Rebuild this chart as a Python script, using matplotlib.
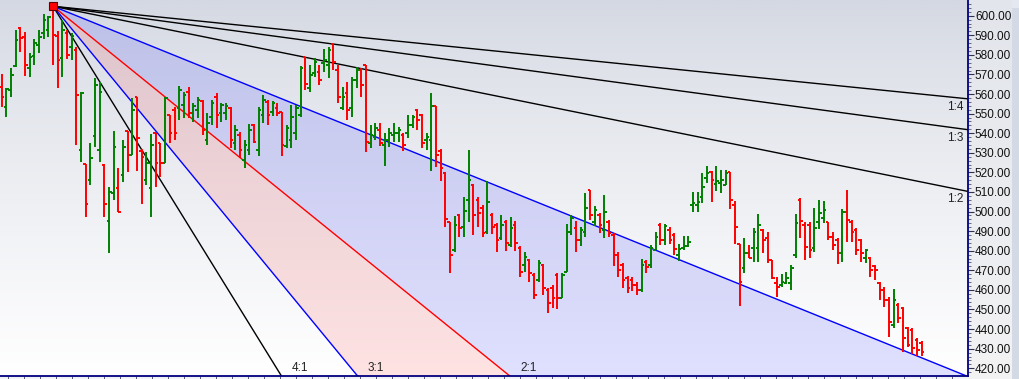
import numpy as np
import matplotlib
matplotlib.use("Agg")
import matplotlib.pyplot as plt
from matplotlib.patches import Rectangle

# ---------------- data ----------------
opens = [563.6, 553.4, 562.1, 574.3, 593.7, 589.1, 573.3, 579.4, 585.1, 591.2,
         592.7, 602.9, 589.6, 578.4, 591.2, 584.0, 582.5, 531.5, 524.4, 516.2,
         538.6, 531.5, 523.9, 495.3, 509.6, 512.1, 518.8, 541.2, 528.9, 558.5,
         531.0, 516.2, 512.1, 540.2, 535.1, 524.9, 549.4, 551.9, 552.9, 554.5,
         561.1, 550.4, 551.9, 556.5, 536.6, 548.3, 558.5, 550.4, 550.4, 552.9,
         535.1, 539.2, 526.4, 531.5, 544.3, 531.5, 549.4, 556.0, 550.9, 552.9,
         550.9, 533.5, 536.6, 540.2, 549.4, 578.9, 563.1, 570.8, 571.3, 575.9,
         574.9, 585.6, 572.3, 552.9, 560.6, 552.9, 567.2, 572.3, 574.9, 535.1,
         538.1, 541.7, 534.0, 536.6, 539.2, 540.2, 539.2, 540.2, 544.3, 551.9,
         549.4, 536.6, 536.6, 553.9, 531.0, 519.8, 494.8, 480.5, 498.4, 492.2,
         506.0, 513.7, 506.0, 501.9, 489.7, 498.4, 493.3, 486.6, 494.8, 483.0,
         493.3, 481.5, 472.9, 475.4, 467.8, 465.2, 472.9, 460.1, 461.1, 467.8,
         456.0, 469.3, 489.7, 491.7, 485.6, 489.7, 511.1, 494.8, 498.4, 490.7,
         494.8, 488.1, 477.9, 472.9, 466.2, 465.2, 462.7, 460.1, 474.4, 472.9,
         480.5, 493.3, 485.6, 490.7, 488.1, 477.9, 481.5, 482.5, 503.5, 503.5,
         507.5, 517.2, 520.3, 514.2, 514.6, 513.7, 520.3, 503.5, 483.6, 471.3,
         478.9, 481.5, 481.5, 490.7, 486.6, 475.4, 463.7, 462.7, 463.7, 463.7,
         477.9, 505.9, 493.3, 493.3, 481.5, 494.8, 496.8, 494.8, 487.1, 485.6,
         479.0, 499.9, 494.8, 490.7, 485.6, 476.4, 476.4, 472.3, 463.7, 460.1,
         455.0, 442.3, 452.4, 450.9, 440.7, 439.6, 434.6, 433.0]
highs = [570.3, 563.1, 573.3, 592.7, 594.2, 591.7, 581.0, 588.1, 592.7, 600.9,
         599.8, 604.8, 592.2, 597.8, 592.7, 591.2, 584.0, 561.1, 524.4, 535.1,
         568.2, 566.2, 524.4, 512.6, 541.2, 522.3, 536.6, 541.2, 558.0, 558.5,
         532.0, 530.5, 539.7, 540.2, 535.1, 558.5, 549.4, 553.4, 564.1, 561.1,
         563.6, 555.5, 558.5, 557.0, 550.4, 557.0, 560.6, 555.5, 555.5, 553.4,
         544.3, 540.7, 536.6, 544.8, 544.8, 553.4, 559.6, 557.0, 556.5, 555.5,
         550.9, 544.3, 554.5, 554.5, 574.3, 578.9, 574.9, 578.4, 574.9, 583.0,
         584.0, 585.6, 574.9, 563.6, 566.2, 568.7, 573.8, 573.3, 574.9, 544.3,
         545.3, 545.3, 540.2, 542.7, 545.3, 543.2, 540.2, 549.4, 549.4, 552.4,
         549.9, 540.2, 560.6, 553.9, 532.0, 520.3, 494.8, 497.8, 498.9, 507.5,
         531.5, 514.2, 507.5, 503.5, 515.7, 499.4, 494.3, 498.4, 495.8, 497.3,
         495.3, 482.5, 479.5, 475.9, 468.8, 475.4, 473.4, 461.1, 462.7, 468.8,
         468.8, 493.8, 498.4, 495.3, 492.2, 509.6, 511.1, 502.9, 499.4, 508.6,
         495.8, 489.1, 479.5, 473.9, 467.2, 466.7, 464.2, 475.9, 475.4, 483.0,
         489.7, 494.3, 493.8, 492.2, 489.1, 483.6, 487.6, 487.6, 510.1, 510.1,
         519.8, 523.3, 520.8, 523.3, 521.3, 521.3, 520.3, 505.4, 483.6, 486.6,
         483.0, 491.7, 498.9, 491.2, 489.7, 475.4, 466.7, 468.3, 469.3, 472.8,
         498.9, 507.0, 494.8, 494.8, 501.9, 505.9, 505.5, 494.8, 489.7, 486.6,
         501.4, 511.1, 495.8, 491.7, 486.1, 481.0, 476.9, 472.9, 464.2, 461.6,
         456.5, 460.6, 453.5, 451.4, 441.2, 440.7, 435.6, 434.1]
lows = [553.4, 548.3, 558.5, 573.8, 581.5, 569.2, 568.7, 574.9, 581.0, 588.1,
        589.1, 574.9, 563.1, 568.7, 577.9, 577.4, 534.0, 525.4, 497.3, 513.7,
        533.0, 525.4, 497.3, 479.0, 506.0, 499.9, 515.2, 520.3, 528.9, 520.8,
        504.0, 513.7, 497.3, 512.6, 517.7, 524.9, 535.1, 536.6, 546.8, 547.8,
        547.8, 545.8, 547.8, 539.2, 534.0, 544.3, 542.7, 545.8, 546.8, 532.5,
        531.5, 527.4, 522.3, 528.9, 535.1, 528.4, 545.3, 544.3, 548.8, 548.8,
        528.4, 532.5, 532.5, 536.6, 548.3, 562.1, 561.1, 568.7, 564.7, 571.3,
        568.2, 572.3, 555.5, 551.9, 546.8, 548.3, 563.1, 558.5, 530.5, 532.5,
        536.6, 533.5, 523.3, 533.0, 535.6, 535.6, 531.0, 537.6, 542.7, 541.7,
        532.5, 531.5, 520.8, 522.8, 515.7, 492.2, 468.8, 479.5, 487.1, 487.1,
        494.8, 488.1, 492.2, 487.1, 488.6, 488.6, 479.5, 485.6, 480.0, 482.0,
        480.0, 466.7, 469.3, 464.2, 455.5, 464.2, 457.5, 448.4, 450.9, 450.4,
        456.0, 469.3, 488.1, 479.5, 482.5, 487.1, 495.8, 492.7, 489.1, 486.6,
        487.1, 472.2, 466.7, 461.1, 458.6, 459.6, 457.5, 459.1, 468.8, 471.3,
        480.5, 483.0, 483.0, 483.6, 477.9, 474.9, 480.5, 482.0, 499.9, 499.9,
        504.5, 514.7, 504.9, 510.6, 509.6, 513.7, 501.4, 483.6, 451.8, 468.8,
        476.4, 474.4, 474.4, 478.9, 473.9, 465.7, 456.5, 461.6, 463.2, 460.1,
        476.4, 486.6, 475.4, 476.4, 479.5, 491.2, 494.3, 485.6, 480.5, 473.4,
        474.4, 484.6, 484.6, 477.9, 474.4, 473.9, 466.7, 465.2, 455.0, 451.4,
        436.1, 440.7, 443.3, 428.5, 431.0, 427.5, 426.4, 426.4]
closes = [558.5, 562.6, 569.8, 587.6, 588.6, 574.9, 578.9, 586.1, 589.1, 597.8,
          599.3, 590.2, 577.4, 592.7, 580.0, 589.6, 559.6, 560.6, 504.0, 527.4,
          564.7, 561.1, 504.0, 510.1, 533.0, 499.9, 533.0, 528.9, 551.9, 537.6,
          527.9, 524.9, 534.1, 524.9, 524.9, 558.0, 540.2, 540.2, 562.1, 559.6,
          550.4, 553.9, 557.0, 541.7, 545.3, 555.5, 549.4, 554.5, 553.9, 536.6,
          541.7, 531.5, 534.1, 541.7, 535.6, 551.9, 557.0, 549.4, 555.5, 550.4,
          534.1, 542.7, 548.3, 552.9, 573.3, 565.2, 569.8, 576.4, 567.2, 577.4,
          582.5, 576.4, 558.5, 558.5, 551.9, 567.2, 572.3, 564.7, 535.6, 539.2,
          542.7, 535.1, 536.6, 540.2, 540.2, 541.7, 534.0, 544.3, 548.3, 546.8,
          535.1, 538.1, 553.9, 528.9, 522.3, 496.3, 478.0, 493.3, 491.7, 500.4,
          516.2, 498.4, 499.4, 489.1, 504.9, 492.2, 485.6, 493.3, 484.0, 491.7,
          484.0, 469.3, 476.9, 468.8, 457.5, 473.9, 461.1, 453.5, 456.0, 456.0,
          467.8, 489.7, 496.8, 485.6, 490.7, 501.9, 498.4, 500.8, 493.3, 499.9,
          489.1, 477.9, 470.2, 465.2, 461.1, 462.7, 460.1, 472.9, 471.8, 481.5,
          487.1, 485.6, 492.7, 485.6, 481.0, 481.0, 482.5, 484.6, 504.5, 505.0,
          512.6, 519.8, 516.2, 515.7, 516.2, 519.8, 505.9, 492.2, 464.1, 478.9,
          476.4, 489.7, 493.3, 485.6, 475.4, 466.2, 461.6, 464.2, 466.2, 471.3,
          494.3, 495.3, 482.0, 480.5, 491.7, 499.4, 500.9, 487.1, 483.0, 479.0,
          499.9, 495.8, 489.7, 480.5, 479.0, 480.5, 470.3, 470.3, 460.1, 455.0,
          443.8, 455.0, 445.8, 435.6, 432.0, 430.5, 429.5, 428.5]

price_ticks = [420, 430, 440, 450, 460, 470, 480, 490, 500, 510,
               520, 530, 540, 550, 560, 570, 580, 590, 600]

# Gann fan: anchored at the high of bar 11
anchor_idx = 11
anchor_price = 604.8
gann_unit = 0.965          # price per bar for the 1x1 line
fan_ratios = [4, 3, 2, 1, 1/2, 1/3, 1/4]
fan_labels = ["4:1", "3:1", "2:1", "", "1:2", "1:3", "1:4"]
fan_colors = ["black", "#0000ff", "#ff0000", "#0000ff", "black", "black", "black"]

# ---------------- figure ----------------
W, H = 1019, 379
fig = plt.figure(figsize=(W / 100, H / 100), dpi=100)
fig.patch.set_facecolor("#eeeff2")

bg = fig.add_axes([0, 0, 1, 1], zorder=-10)
bg.set_xlim(0, 1); bg.set_ylim(0, 1); bg.axis("off")
t = np.linspace(0, 1, 256)[:, None, None]
top_c = np.array([226, 229, 235]) / 255
bot_c = np.array([243, 243, 244]) / 255
bg.imshow(top_c + (bot_c - top_c) * t, aspect="auto", extent=[0, 1, 0, 1], origin="upper")
bg.add_patch(Rectangle((1012 / W, 0), 7 / W, 1, color="#d3dae5", lw=0))
bg.add_patch(Rectangle((1012 / W, 1 - 8 / H), 7 / W, 8 / H, color="#e4e9f1", lw=0))

ax = fig.add_axes([0, 3 / H, 968 / W, 376 / H])
xmin, xmax = -0.364, 206.9
ymin, ymax = 416.05, 608.0
ax.set_xlim(xmin, xmax)
ax.set_ylim(ymin, ymax)

# plot background gradient
tp = np.linspace(0, 1, 256) ** 0.8
ptop = np.array([212, 216, 226]) / 255
pbot = np.array([255, 255, 255]) / 255
ax.imshow(ptop + (pbot - ptop) * tp[:, None, None], aspect="auto",
          extent=[xmin, xmax, ymin, ymax], origin="upper", zorder=0)

# fan lines and fills
xs = np.linspace(anchor_idx, xmax + 5, 400)
def fan_y(r):
    return anchor_price - r * gann_unit * (xs - anchor_idx)

ax.fill_between(xs, fan_y(3), fan_y(2), color="#ff0000", alpha=0.11, lw=0, zorder=1)
ax.fill_between(xs, fan_y(2), fan_y(1), color="#0000ff", alpha=0.12, lw=0, zorder=1)

for r, c in zip(fan_ratios, fan_colors):
    ax.plot(xs, fan_y(r), color=c, lw=1.0, zorder=2, solid_capstyle="butt")

# fan labels
lab_font = dict(family="Liberation Sans", size=8.5, color="#222222")
for r, lab in zip(fan_ratios, fan_labels):
    if not lab:
        continue
    if r > 1:
        xhit = anchor_idx + (anchor_price - ymin) / (r * gann_unit)
        ax.text(xhit + 2.2, ymin + 0.8, lab, ha="left", va="bottom", zorder=5, **lab_font)
    else:
        yend = anchor_price - r * gann_unit * (xmax - anchor_idx)
        ax.text(xmax - 1.0, yend - 4.0, lab, ha="right", va="center", zorder=5, **lab_font)

# OHLC bars
o = np.array(opens); h = np.array(highs); l = np.array(lows); c = np.array(closes)
x = np.arange(len(o))
cols = np.where(c >= o, "#008000", "#ff0000")
w = 0.55
ax.vlines(x, l, h, colors=cols, lw=1.4, zorder=3)
ax.hlines(o, x - w, x, colors=cols, lw=1.4, zorder=3)
ax.hlines(c, x, x + w, colors=cols, lw=1.4, zorder=3)

# anchor marker
ax.plot([anchor_idx], [anchor_price], marker="s", ms=5.5, mfc="#ff0000", mec="#600000",
        mew=0.8, zorder=6, clip_on=False)

# axes styling
for s in ["top", "left"]:
    ax.spines[s].set_visible(False)
for s in ["right", "bottom"]:
    ax.spines[s].set_color("#000080")
    ax.spines[s].set_linewidth(1.3)
    ax.spines[s].set_zorder(7)

ax.yaxis.tick_right()
ax.set_yticks(price_ticks)
ax.set_yticklabels([f"{v:.2f}" for v in price_ticks])
ax.set_yticks(np.arange(418, 608, 2), minor=True)
ax.tick_params(axis="y", which="major", length=4, width=0.8, color="#303050", pad=1,
               labelsize=8.5, labelcolor="#111111")
ax.tick_params(axis="y", which="minor", length=2, width=0.6, color="#505070")
for tl in ax.get_yticklabels():
    tl.set_family("Liberation Sans")
# the top label is partly cut by the top edge in the reference
ax.text(1.0, 609.3, "-610.00", transform=ax.get_yaxis_transform(), ha="left", va="center",
        fontsize=8.5, family="Liberation Sans", color="#111111", clip_on=False)

ax.set_xticks(np.arange(1.41, xmax, 3.426))
ax.tick_params(axis="x", which="major", length=3, width=0.6, color="#404060",
               labelbottom=False)

fig.savefig("out.png", dpi=100)
